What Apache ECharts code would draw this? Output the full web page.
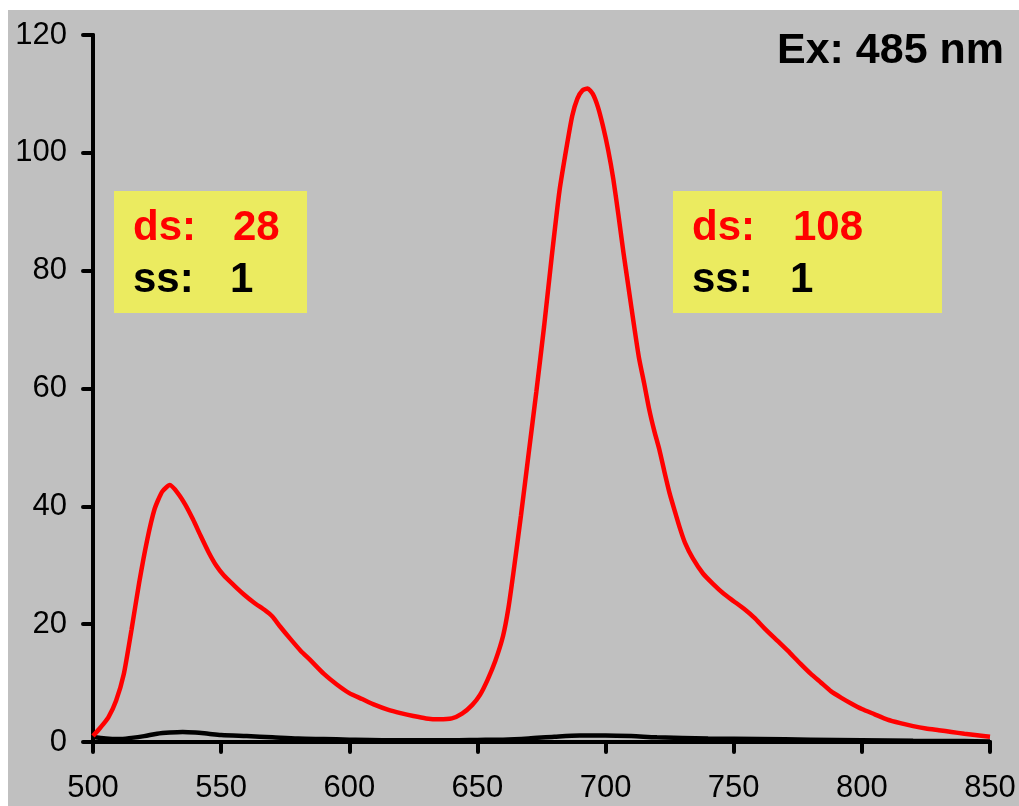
<!DOCTYPE html>
<html>
<head>
<meta charset="utf-8">
<script src="https://cdn.jsdelivr.net/npm/echarts@6/dist/echarts.min.js"></script>
<style>
html,body{margin:0;padding:0;background:#fff;}
#chart{width:1019px;height:806px;}
</style>
</head>
<body>
<div id="chart"></div>
<script>
// wavelength (nm) for the ds (red) trace
const dsWavelength = [500,503,506,509,512,515,518,521,524,527,530,533,536,539,542,545,548,551,555,559,563,567,570,573,577,581,585,590,595,600,605,610,615,620,625,630,635,640,644,648,651,654,657,660,662,664,667,670,673,676,679,682,685,687,689,691,693,695,697,699,701,703,705,707,709,711,713,715,717,719,721,723,725,727,729,731,734,738,742,746,750,754,758,762,767,772,776,780,784,788,792,796,800,805,810,815,820,825,830,835,840,845,850];
const dsValues = [1.0,2.5,4.2,7.0,11.5,19.0,27.0,34.0,39.5,42.5,43.6,42.3,40.3,37.8,35.0,32.3,30.0,28.3,26.6,25.0,23.6,22.4,21.3,19.6,17.5,15.5,13.8,11.6,9.8,8.3,7.3,6.3,5.5,4.9,4.4,4.0,3.85,4.0,4.8,6.3,8.0,10.6,13.8,18.0,22.5,28.6,38.5,49.0,59.5,70.5,82.4,93.5,101.5,106.3,109.2,110.6,110.9,110.0,107.8,104.5,100.5,95.6,89.5,83.0,77.0,71.0,65.3,61.0,56.5,52.8,49.6,45.8,42.2,39.2,36.3,33.8,31.2,28.6,26.8,25.2,23.9,22.6,21.1,19.3,17.2,15.1,13.3,11.6,10.1,8.6,7.5,6.5,5.6,4.7,3.8,3.2,2.7,2.3,2.0,1.7,1.4,1.15,0.9];
// wavelength (nm) for the ss (black) trace
const ssWavelength = [500,505,510,515,520,525,530,535,540,545,550,560,570,580,590,600,620,640,650,660,670,680,690,700,710,720,740,760,780,800,820,840,850];
const ssValues = [0.9,0.6,0.5,0.7,1.0,1.4,1.6,1.7,1.6,1.4,1.2,1.0,0.8,0.6,0.5,0.4,0.3,0.3,0.35,0.4,0.6,0.9,1.1,1.1,1.0,0.8,0.6,0.5,0.4,0.3,0.2,0.15,0.1];
const xTicks = {min:500, max:850, interval:50};
const yTicks = {min:0, max:120, interval:20};
const titleText = 'Ex: 485 nm';
const leftBox = {ds:'28', ss:'1'};
const rightBox = {ds:'108', ss:'1'};

const FONT = 'Liberation Sans, Arial, sans-serif';
const chart = echarts.init(document.getElementById('chart'), null, {renderer:'canvas'});

function pairs(xs, ys){ return xs.map((x,i)=>[x, ys[i]]); }

function boxTexts(x0, w, numX, vals){
  return [
    {type:'rect', shape:{x:x0, y:191, width:w, height:122}, style:{fill:'#ebeb60'}, z:1},
    {type:'text', x:x0+19, y:228, style:{text:'ds:', font:'bold 42px '+FONT, fill:'#ff0000', verticalAlign:'middle', align:'left'}, z:2},
    {type:'text', x:numX, y:228, style:{text:vals.ds, font:'bold 42px '+FONT, fill:'#ff0000', verticalAlign:'middle', align:'left'}, z:2},
    {type:'text', x:x0+19, y:280, style:{text:'ss:', font:'bold 42px '+FONT, fill:'#000000', verticalAlign:'middle', align:'left'}, z:2},
    {type:'text', x:numX-3, y:280, style:{text:vals.ss, font:'bold 42px '+FONT, fill:'#000000', verticalAlign:'middle', align:'left'}, z:2}
  ];
}

const option = {
  animation:false,
  backgroundColor:'#ffffff',
  graphic:[
    {type:'rect', shape:{x:8, y:10, width:1011, height:796}, style:{fill:'#c0c0c0'}, z:-100},
    ...boxTexts(114, 193, 233, leftBox),
    ...boxTexts(673, 269, 793, rightBox),
    {type:'text', x:1004, y:51, style:{text:titleText, font:'bold 43px '+FONT, fill:'#000000', align:'right', verticalAlign:'middle'}, z:2}
  ],
  grid:{left:93, right:29, top:35, bottom:64, containLabel:false},
  xAxis:{
    type:'value', min:xTicks.min, max:xTicks.max, interval:xTicks.interval,
    axisLine:{show:true, onZero:false, lineStyle:{color:'#000', width:4, cap:'round'}},
    axisTick:{show:true, inside:false, length:10, lineStyle:{color:'#000', width:4, cap:'round'}},
    axisLabel:{color:'#000', fontSize:31, fontFamily:FONT, margin:31},
    splitLine:{show:false}
  },
  yAxis:{
    type:'value', min:yTicks.min, max:yTicks.max, interval:yTicks.interval,
    axisLine:{show:true, onZero:false, lineStyle:{color:'#000', width:4, cap:'round'}},
    axisTick:{show:true, inside:false, length:10, lineStyle:{color:'#000', width:4, cap:'round'}},
    axisLabel:{color:'#000', fontSize:31, fontFamily:FONT, margin:26},
    splitLine:{show:false}
  },
  series:[
    {type:'line', name:'ss', data:pairs(ssWavelength, ssValues), showSymbol:false, smooth:0.3,
     lineStyle:{color:'#000000', width:4.5}, z:3},
    {type:'line', name:'ds', data:pairs(dsWavelength, dsValues), showSymbol:false, smooth:0.2,
     lineStyle:{color:'#ff0000', width:4.5}, z:4}
  ]
};
chart.setOption(option);
</script>
</body>
</html>
